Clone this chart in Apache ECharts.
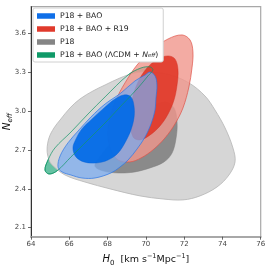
<!DOCTYPE html>
<html><head><meta charset="utf-8">
<script src="https://cdn.jsdelivr.net/npm/echarts@6/dist/echarts.min.js"></script>
<style>html,body{margin:0;padding:0;background:#fff}#c{width:269px;height:270px}</style>
</head><body><div id="c"></div>
<script>
// Axis ticks
var xTicks = [64, 66, 68, 70, 72, 74, 76];
var yTicks = [2.1, 2.4, 2.7, 3.0, 3.3, 3.6];
var legendNames = ['P18 + BAO', 'P18 + BAO + R19', 'P18', 'P18 + BAO (ΛCDM + N_eff)'];

// Contour outlines [H0, Neff]
var p18Outer = [[64.84,2.700],[64.94,2.792],[65.20,2.869],[65.52,2.931],[66.04,3.024],[66.56,3.093],[67.24,3.155],[67.87,3.201],[68.65,3.255],[69.43,3.294],[70.22,3.301],[71.26,3.278],[72.25,3.217],[73.09,3.116],[73.61,3.008],[74.14,2.869],[74.55,2.715],[74.66,2.607],[74.34,2.506],[73.72,2.414],[72.83,2.345],[71.94,2.314],[70.90,2.321],[69.69,2.345],[68.13,2.399],[66.82,2.452],[65.78,2.506],[65.10,2.584],[64.94,2.622]];
var p18Inner = [[67.34,2.576],[67.61,2.646],[68.23,2.761],[69.17,2.900],[70.22,3.024],[71.00,3.070],[71.47,3.024],[71.63,2.916],[71.58,2.792],[71.37,2.676],[70.95,2.607],[70.22,2.561],[69.43,2.530],[68.55,2.522],[67.76,2.538]];
var r19Outer = [[68.02,2.815],[68.13,2.946],[68.44,3.085],[68.91,3.217],[69.54,3.355],[70.32,3.471],[71.16,3.556],[71.89,3.587],[72.31,3.548],[72.46,3.456],[72.41,3.332],[72.25,3.186],[71.94,3.024],[71.52,2.900],[71.00,2.792],[70.37,2.700],[69.75,2.638],[69.17,2.607],[68.55,2.622],[68.18,2.700]];
var r19Inner = [[69.17,2.931],[69.28,3.085],[69.59,3.224],[70.06,3.332],[70.64,3.402],[71.16,3.425],[71.52,3.402],[71.68,3.317],[71.63,3.201],[71.47,3.085],[71.16,2.977],[70.74,2.885],[70.22,2.815],[69.69,2.777],[69.33,2.800]];
var baoOuter = [[65.41,2.568],[65.52,2.653],[65.93,2.754],[66.51,2.854],[67.13,2.954],[67.87,3.054],[68.70,3.139],[69.43,3.232],[69.96,3.278],[70.22,3.301],[70.48,3.271],[70.58,3.201],[70.53,3.101],[70.48,3.008],[70.27,2.900],[69.96,2.800],[69.54,2.707],[69.07,2.622],[68.65,2.568],[68.18,2.522],[67.34,2.483],[66.66,2.483],[66.09,2.506],[65.62,2.530]];
var baoInner = [[66.19,2.715],[66.35,2.784],[66.66,2.862],[67.19,2.939],[67.76,3.016],[68.39,3.093],[68.86,3.124],[69.22,3.109],[69.38,3.039],[69.38,2.946],[69.22,2.854],[68.96,2.769],[68.55,2.676],[68.02,2.622],[67.40,2.599],[66.77,2.607],[66.35,2.646]];
var lcdmOuter = [[64.73,2.545],[64.89,2.622],[65.25,2.715],[66.09,2.838],[66.98,2.977],[67.87,3.109],[69.07,3.278],[69.75,3.332],[70.22,3.340],[70.37,3.317],[70.11,3.271],[69.59,3.178],[68.75,3.047],[67.87,2.908],[66.98,2.777],[66.09,2.646],[65.36,2.538],[64.94,2.514]];

function contour(name, pts, fill, stroke, lw) {
  return {
    type: 'custom', name: name, data: pts, encode: {x: 0, y: 1}, clip: true, silent: true,
    renderItem: function (params, api) {
      if (params.dataIndexInside !== 0) return null;
      var n = params.dataInsideLength, ps = [];
      for (var i = 0; i < n; i++) ps.push(api.coord([api.value(0, i), api.value(1, i)]));
      return {type: 'polygon', shape: {points: ps, smooth: 0.35},
              style: {fill: fill, stroke: stroke, lineWidth: lw}};
    }
  };
}

var chart = echarts.init(document.getElementById('c'), null, {renderer: 'canvas'});
var F = 'DejaVu Sans';
chart.setOption({
  animation: false,
  grid: {left: 31, right: 8.3, top: 6.7, bottom: 33.3, containLabel: false, outerBoundsMode: 'none',
         show: true, borderColor: '#a8a8a8', borderWidth: 1.2, backgroundColor: 'transparent'},
  xAxis: {
    type: 'value', min: 64, max: 76, interval: 2,
    splitLine: {show: false},
    axisLine: {show: true, lineStyle: {color: '#a8a8a8', width: 2}},
    axisTick: {show: true, length: 3, lineStyle: {color: '#444', width: 0.8}},
    axisLabel: {fontFamily: F, fontSize: 7, color: '#444', margin: 4},
    name: '{i|H}{sub|0}{n|  [km s}{sup|−1}{n|Mpc}{sup|−1}{n|]}',
    nameLocation: 'middle', nameGap: 16, nameMoveOverlap: false,
    nameTextStyle: {fontFamily: F, color: '#111', rich: {
      i: {fontFamily: F, fontStyle: 'italic', fontSize: 10, lineHeight: 14},
      n: {fontFamily: F, fontSize: 9.5, lineHeight: 14},
      sub: {fontFamily: F, fontSize: 7, verticalAlign: 'bottom', lineHeight: 9},
      sup: {fontFamily: F, fontSize: 6.5, verticalAlign: 'top', lineHeight: 9}
    }}
  },
  yAxis: {
    type: 'value', min: 2.03, max: 3.805,
    splitLine: {show: false},
    axisLine: {show: true, lineStyle: {color: '#333', width: 1}},
    axisTick: {show: true, length: 3, customValues: yTicks, lineStyle: {color: '#444', width: 0.8}},
    axisLabel: {fontFamily: F, fontSize: 7, color: '#444', margin: 5, customValues: yTicks,
      formatter: function (v) { return v.toFixed(1); }},
    name: '{i|N}{sub|eff}', nameLocation: 'middle', nameGap: 17, nameMoveOverlap: false,
    nameTextStyle: {fontFamily: F, color: '#111', rich: {
      i: {fontFamily: F, fontStyle: 'italic', fontSize: 10.5, lineHeight: 14},
      sub: {fontFamily: F, fontStyle: 'italic', fontSize: 7, verticalAlign: 'bottom', lineHeight: 9}
    }}
  },
  legend: {
    left: 33, top: 8, orient: 'vertical', selectedMode: false,
    padding: [4, 5, 3, 4], itemGap: 5, itemWidth: 18, itemHeight: 5.5, icon: 'rect',
    backgroundColor: '#fff', borderColor: '#d0d0d0', borderWidth: 1, borderRadius: 2,
    textStyle: {fontFamily: F, fontSize: 7.7, color: '#222', rich: {
      i: {fontFamily: F, fontStyle: 'italic', fontSize: 7.7},
      s: {fontFamily: F, fontStyle: 'italic', fontSize: 5.5, verticalAlign: 'bottom', lineHeight: 8}
    }},
    formatter: function (name) {
      if (name === legendNames[3]) return 'P18 + BAO (ΛCDM + {i|N}{s|eff})';
      return name;
    },
    data: [
      {name: legendNames[0], itemStyle: {color: '#0f6fe8'}},
      {name: legendNames[1], itemStyle: {color: '#e03a2c'}},
      {name: legendNames[2], itemStyle: {color: '#858585'}},
      {name: legendNames[3], itemStyle: {color: '#0f9a68'}}
    ]
  },
  series: [
    contour(legendNames[3], lcdmOuter, 'rgba(0,153,102,0.6)', 'rgba(20,150,105,0.9)', 0.8),
    contour(legendNames[2], p18Outer, '#d6d6d6', '#b5b5b5', 0.8),
    contour(legendNames[2], p18Inner, '#8a8a8a', '#7f7f7f', 0.5),
    contour(legendNames[1], r19Outer, 'rgba(240,150,140,0.8)', 'rgba(222,80,70,0.85)', 0.8),
    contour(legendNames[1], r19Inner, 'rgba(224,52,36,0.88)', 'rgba(210,45,30,0.9)', 0.5),
    contour(legendNames[0], baoOuter, 'rgba(120,170,240,0.72)', 'rgba(40,115,230,0.85)', 0.8),
    contour(legendNames[0], baoInner, 'rgba(0,105,230,0.92)', 'rgba(0,95,215,0.9)', 0.5),
    contour(legendNames[3], lcdmOuter, 'none', 'rgba(20,150,105,0.9)', 0.8)
  ]
});
</script></body></html>
